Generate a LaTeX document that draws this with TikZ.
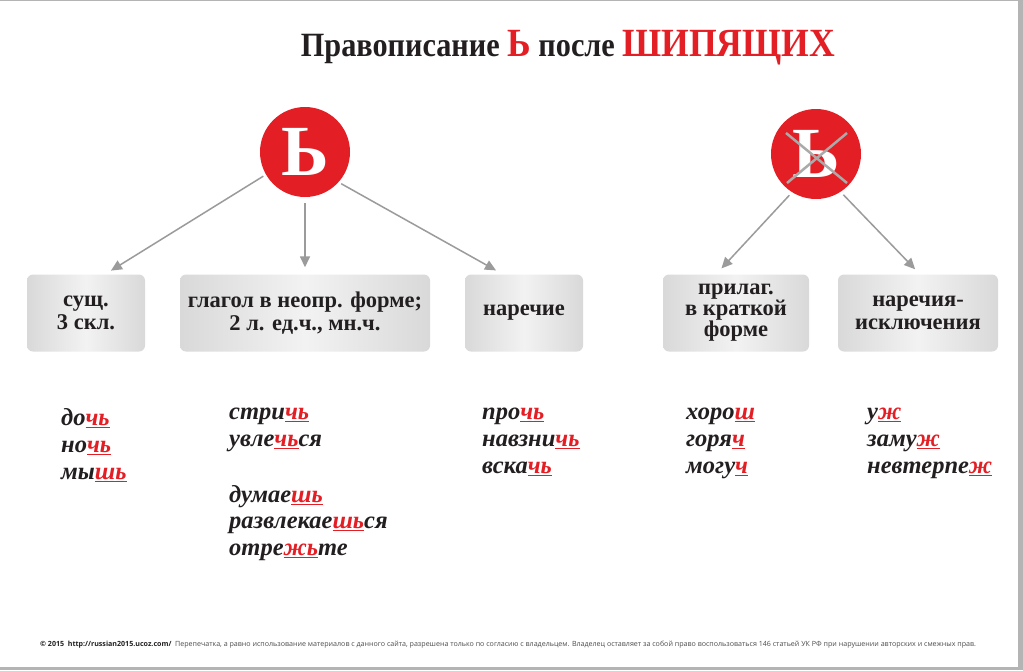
\documentclass[tikz,border=0pt]{standalone}
\usepackage{fontspec}
\setmainfont{Liberation Serif}
\newfontfamily\footfont{Open Sans}
\usetikzlibrary{arrows.meta}

\definecolor{rusred}{HTML}{E31E24}
\definecolor{arrgray}{HTML}{9B9B9B}
\definecolor{inkblack}{HTML}{231F20}
\definecolor{framegray}{HTML}{B4B4B4}

\newcommand\redend[1]{{\color{rusred}\setbox0\hbox{#1}\rlap{\rule[-3.4pt]{\wd0}{1.8pt}}\box0}}

\begin{document}
\begin{tikzpicture}[x=1pt, y=-1pt,
  catbox/.style = {rounded corners=6pt, minimum height=77pt, align=center, inner sep=0pt,
    left color=black!15, right color=black!15, middle color=black!5,
    text=inkblack, font=\fontsize{22.5}{23}\selectfont\bfseries},
  signcircle/.style = {circle, fill=rusred, minimum size=90pt, inner sep=0pt,
    text=white, font=\fontsize{72}{72}\selectfont\bfseries},
  word/.style = {anchor=base west, inner sep=0pt, text=inkblack,
    font=\fontsize{24.5}{27}\selectfont\bfseries\itshape},
  arr/.style = {draw=arrgray, line width=1.5pt, -{Triangle[length=11pt,width=10pt]}}]
\useasboundingbox (0,0) rectangle (1023,670);
\fill[white] (0,0) rectangle (1023,670);
\fill[framegray] (1018,0) rectangle (1023,670);
\fill[framegray] (0,667) rectangle (1023,670);
\draw[framegray, line width=1pt] (0,0.5) -- (1018,0.5);

\node[anchor=base, text=inkblack, font=\fontsize{34}{36}\selectfont\bfseries] (title) at (568,56)
  {\scalebox{0.89}[1]{Правописание {\color{rusred}\fontsize{40}{40}\selectfont Ь} после {\color{rusred}\fontsize{40}{40}\selectfont ШИПЯЩИХ}}};

\node[signcircle] (cL) at (305,152) {Ь};
\node[signcircle] (cR) at (816,154) {Ь};
\draw[arrgray!85, line width=2.5pt] ([shift={(-30,-21)}]cR.center) -- ([shift={(31,29)}]cR.center);
\draw[arrgray!85, line width=2.5pt] ([shift={(31,-21)}]cR.center) -- ([shift={(-29,29)}]cR.center);

\node[catbox, minimum width=118pt] (noun) at (86,313) {сущ.\\3 скл.};
\node[catbox, minimum width=250pt] (verb) at (305,313) {глагол в неопр. форме;\\2 л. ед.ч., мн.ч.};
\node[catbox, minimum width=118pt] (adv) at (524,313) {наречие};
\node[catbox, minimum width=146pt, font=\fontsize{22.5}{21}\selectfont\bfseries] (adj) at (736,313) {прилаг.\\в краткой\\форме};
\node[catbox, minimum width=160pt] (exc) at (918,313) {наречия-\\исключения};

\draw[arr, shorten <=3pt, shorten >=7pt] (cL.210) -- ([xshift=19pt]noun.north);
\draw[arr, shorten <=6pt, shorten >=7pt] (cL.south) -- (verb.north);
\draw[arr, shorten <=3pt, shorten >=8pt] (cL.318) -- ([xshift=-21pt]adv.north);
\draw[arr, shorten <=4pt, shorten >=8pt] (cR.238) -- ([xshift=-20pt]adj.north);
\draw[arr, shorten <=4pt, shorten >=7pt] (cR.303) -- ([xshift=2pt]exc.north);

% words
\node[word] (w11) at (61,425) {до\redend{чь}};
\node[word] (w12) at (61,452) {но\redend{чь}};
\node[word] (w13) at (61,479) {мы\redend{шь}};

\node[word] (w21) at (229,419) {стри\redend{чь}};
\node[word] (w22) at (229,446) {увле\redend{чь}ся};
\node[word] (w23) at (229,502) {думае\redend{шь}};
\node[word] (w24) at (229,528) {развлекае\redend{шь}ся};
\node[word] (w25) at (229,555) {отре\redend{жь}те};

\node[word] (w31) at (482,419) {про\redend{чь}};
\node[word] (w32) at (482,446) {навзни\redend{чь}};
\node[word] (w33) at (482,473) {вска\redend{чь}};

\node[word] (w41) at (686,419) {хоро\redend{ш}};
\node[word] (w42) at (686,446) {горя\redend{ч}};
\node[word] (w43) at (686,473) {могу\redend{ч}};

\node[word] (w51) at (867,419) {у\redend{ж}};
\node[word] (w52) at (867,446) {заму\redend{ж}};
\node[word] (w53) at (867,473) {невтерпе\redend{ж}};

\node[anchor=base west, inner sep=0pt, text=inkblack, font=\footfont\fontsize{7.1}{8}\selectfont] (foot) at (40,646)
  {{\bfseries © 2015\ \ http://russian2015.ucoz.com/}\ \ \textcolor{black!70}{Перепечатка, а равно использование материалов с данного сайта, разрешена только по согласию с владельцем. Владелец оставляет за собой право воспользоваться 146 статьей УК РФ при нарушении авторских и смежных прав.}};
\end{tikzpicture}
\end{document}
